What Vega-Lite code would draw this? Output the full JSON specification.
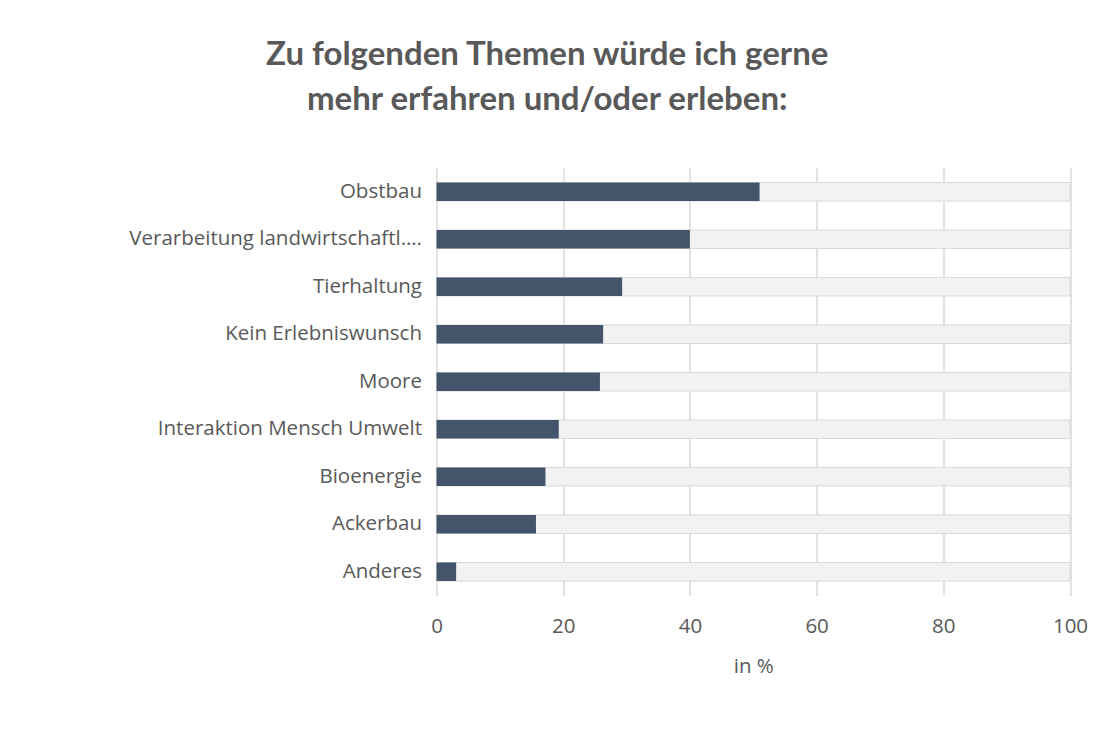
{
  "$schema": "https://vega.github.io/schema/vega-lite/v6.json",
  "autosize": {"type": "none"},
  "padding": {"left": 436.5, "top": 168, "right": 34, "bottom": 153.5},
  "width": 633.5,
  "height": 427.5,
  "background": "white",
  "title": {
    "text": ["Zu folgenden Themen würde ich gerne", "mehr erfahren und/oder erleben:"],
    "font": "Lato",
    "fontSize": 33,
    "fontWeight": "bold",
    "color": "#595959",
    "anchor": "middle",
    "frame": "group",
    "dx": -206,
    "lineHeight": 45,
    "offset": 51
  },
  "data": {
    "values": [
      {"thema": "Obstbau", "wert": 51.0, "gesamt": 100},
      {"thema": "Verarbeitung landwirtschaftl.…", "wert": 40.0, "gesamt": 100},
      {"thema": "Tierhaltung", "wert": 29.3, "gesamt": 100},
      {"thema": "Kein Erlebniswunsch", "wert": 26.3, "gesamt": 100},
      {"thema": "Moore", "wert": 25.8, "gesamt": 100},
      {"thema": "Interaktion Mensch Umwelt", "wert": 19.3, "gesamt": 100},
      {"thema": "Bioenergie", "wert": 17.2, "gesamt": 100},
      {"thema": "Ackerbau", "wert": 15.7, "gesamt": 100},
      {"thema": "Anderes", "wert": 3.1, "gesamt": 100}
    ]
  },
  "encoding": {
    "y": {
      "field": "thema",
      "type": "nominal",
      "sort": null,
      "scale": {"paddingInner": 0.61, "paddingOuter": 0.305},
      "axis": {
        "title": null,
        "domain": false,
        "ticks": false,
        "grid": false,
        "labelFont": "Open Sans",
        "labelFontSize": 20.5,
        "labelColor": "#595959",
        "labelPadding": 15,
        "labelLimit": 400
      }
    }
  },
  "layer": [
    {
      "mark": {"type": "bar", "fill": "#f2f2f2", "stroke": "#d9d9d9", "strokeWidth": 1},
      "encoding": {
        "x": {
          "field": "gesamt",
          "type": "quantitative",
          "scale": {"domain": [0, 100], "nice": false},
          "axis": {
            "title": "in %",
            "values": [0, 20, 40, 60, 80, 100],
            "grid": true,
            "gridColor": "#d9d9d9",
            "gridWidth": 1.5,
            "domain": false,
            "ticks": false,
            "labelFlush": false,
            "labelOverlap": false,
            "labelFont": "Open Sans",
            "labelFontSize": 20.5,
            "labelColor": "#595959",
            "labelPadding": 21,
            "titleFont": "Open Sans",
            "titleFontSize": 20.5,
            "titleFontWeight": "normal",
            "titleColor": "#595959",
            "titlePadding": 19
          }
        }
      }
    },
    {
      "mark": {"type": "bar", "fill": "#44546a"},
      "encoding": {
        "x": {"field": "wert", "type": "quantitative"}
      }
    }
  ],
  "config": {"view": {"stroke": null}}
}
